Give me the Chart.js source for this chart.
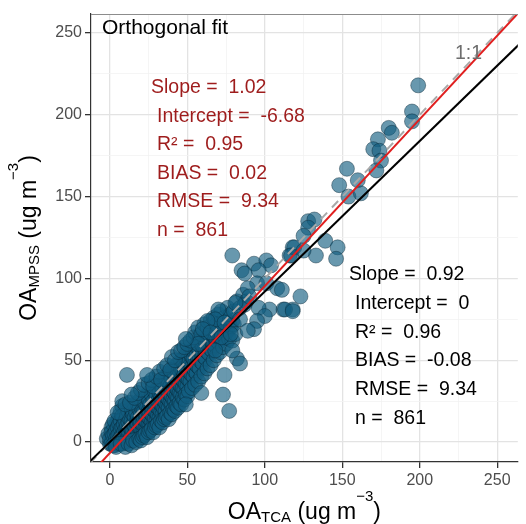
<!DOCTYPE html>
<html lang="en">
<head>
<meta charset="UTF-8" />
<title>Orthogonal fit - OA MPSS vs OA TCA</title>
<style>
  body { margin: 0; background: #fff; }
  #chart { display: block; }
</style>
</head>
<body>
<canvas id="chart" width="526" height="524"></canvas>
<script src="https://cdn.jsdelivr.net/npm/chart.js"></script>
<script>
  // [OA_TCA, OA_MPSS] pairs (ug m-3)
  const coreLow = [
    [1,3],[2,1],[2,7],[3,2],[3,9],[4,0],[4,4],[4,11],[5,2],[5,6],[5,13],[6,-1],[6,3],[6,8],[6,16],
    [7,1],[7,5],[7,10],[7,19],[8,2],[8,7],[8,12],[8,22],[9,0],[9,4],[9,9],[9,15],[10,2],[10,6],
    [10,11],[10,18],[11,3],[11,8],[11,13],[11,21],[12,1],[12,5],[12,10],[12,15],[13,4],[13,7],
    [13,12],[13,19],[14,2],[14,6],[14,11],[14,16],[15,5],[15,9],[15,14],[15,22],[16,3],[16,8],
    [16,12],[16,18],[-2,2],[0,-1],[-1,5],[1,9]
  ];
  const coreMid = [
    [17,6],[17,10],[17,14],[17,22],[18,4],[18,9],[18,13],[18,18],[19,7],[19,11],[19,16],[19,25],
    [20,6],[20,10],[20,14],[20,19],[21,9],[21,13],[21,17],[21,24],[22,8],[22,12],[22,16],[22,21],
    [23,11],[23,15],[23,19],[23,28],[24,10],[24,14],[24,18],[24,23],[25,13],[25,17],[25,21],[25,30],
    [26,12],[26,16],[26,20],[26,26],[27,15],[27,19],[27,24],[28,14],[28,18],[28,22],[28,28],
    [29,17],[29,21],[29,26],[30,16],[30,20],[30,25],[30,32],[31,19],[31,23],[31,28],[32,18],
    [32,22],[32,27],[32,34],[33,21],[33,25],[33,30],[34,20],[34,24],[34,29],[34,38],[35,23],
    [35,27],[35,33],[36,22],[36,26],[36,31],[36,40],[37,25],[37,29],[37,35],[38,24],[38,28],
    [38,33],[38,42],[39,27],[39,31],[39,37],[40,26],[40,30],[40,35],[40,44]
  ];
  const coreHigh = [
    [41,29],[41,34],[41,39],[42,28],[42,33],[42,38],[42,46],[43,31],[43,36],[43,41],[44,30],
    [44,35],[44,40],[44,48],[45,33],[45,38],[45,44],[46,32],[46,37],[46,42],[46,50],[47,36],
    [47,41],[47,47],[48,35],[48,40],[48,45],[48,52],[49,38],[49,43],[49,49],[50,37],[50,42],
    [50,47],[50,55],[51,41],[51,46],[51,52],[52,40],[52,45],[52,50],[53,44],[53,49],[53,56],
    [54,43],[54,48],[54,53],[55,46],[55,51],[55,58],[56,45],[56,50],[56,55],[57,49],[57,54],
    [57,61],[58,48],[58,53],[58,58],[59,52],[59,57],[60,51],[60,56],[60,62],[61,54],[61,59],
    [62,53],[62,58],[62,65],[63,57],[63,62],[64,56],[64,61],[64,67],[65,60],[65,65],[66,59],
    [66,64],[67,62],[67,68],[68,61],[68,66],[69,64],[70,63],[70,69],[71,66],[72,65],[72,71],
    [73,68],[74,70],[75,67],[76,72]
  ];
  const coreFill = [
    [0,2],[1,6],[1,-1],[2,4],[2,11],[3,5],[3,-2],[3,13],[4,7],[4,2],[5,9],[5,-1],[5,4],[6,11],
    [6,5],[6,1],[7,3],[7,13],[7,8],[8,-1],[8,4],[8,9],[8,16],[9,6],[9,11],[9,2],[10,4],[10,8],
    [10,13],[10,0],[11,1],[11,6],[11,10],[11,16],[12,3],[12,7],[12,12],[12,19],[13,2],[13,9],
    [13,14],[14,4],[14,8],[14,13],[14,20],[15,3],[15,7],[15,11],[15,17],[16,5],[16,10],[16,15],
    [16,23],[17,4],[17,8],[17,12],[17,18],[18,6],[18,11],[18,15],[18,23],[19,5],[19,9],[19,13],
    [19,20],[20,4],[20,8],[20,12],[20,17],[20,26],[21,7],[21,11],[21,20],[22,6],[22,10],[22,14],
    [22,19],[23,9],[23,13],[23,17],[23,23],[24,8],[24,12],[24,16],[24,21],[25,11],[25,15],[25,19],
    [25,26],[26,10],[26,14],[26,18],[26,23],[27,12],[27,17],[27,21],[27,29],[28,11],[28,16],
    [28,20],[28,25],[29,14],[29,19],[29,23],[29,31],[30,13],[30,18],[30,22],[30,28],[31,16],
    [31,21],[31,25],[32,15],[32,20],[32,24],[32,30],[33,18],[33,23],[33,27],[33,35],[34,17],
    [34,22],[34,26],[34,32],[35,20],[35,25],[35,30],[35,37],[36,19],[36,24],[36,28],[36,34],
    [37,22],[37,27],[37,32],[38,21],[38,26],[38,30],[38,37],[39,24],[39,29],[39,34],[40,23],
    [40,28],[40,32],[40,39],[41,26],[41,31],[41,36],[42,25],[42,30],[42,35],[42,41],[43,28],
    [43,33],[43,38],[44,27],[44,32],[44,37],[44,43],[45,30],[45,35],[45,41],[46,29],[46,34],
    [46,39],[46,45],[47,33],[47,38],[47,44],[48,32],[48,37],[48,42],[48,48],[49,35],[49,40],
    [49,46],[50,34],[50,39],[50,44],[50,50],[51,38],[51,43],[51,49],[52,37],[52,42],[52,47],
    [52,54],[53,41],[53,46],[53,52],[54,40],[54,45],[54,51],[55,43],[55,48],[55,54],[56,42],
    [56,47],[56,53],[56,59],[57,46],[57,51],[57,57],[58,45],[58,51],[58,56],[59,49],[59,54],
    [59,60],[60,48],[60,54],[60,59],[61,52],[61,57],[61,63],[62,51],[62,56],[62,61],[63,55],
    [63,60],[63,66],[64,54],[64,59],[64,64],[65,57],[65,62],[66,56],[66,61],[66,67],[67,60],
    [67,65],[68,59],[68,64],[68,70],[69,62],[69,67],[70,61],[70,66],[71,64],[71,69],[72,63],
    [72,68],[73,66],[73,71],[74,65],[74,68],[75,70],[76,68],[77,73],[78,70],[79,74],[80,72]
  ];
  const bandUpper = [
    [5,18],[8,25],[10,23],[13,24],[16,27],[18,30],[20,32],[22,35],[25,36],[27,38],[28,34],
    [30,40],[32,43],[33,38],[35,45],[37,47],[39,44],[40,52],[42,50],[44,55],[46,56],[48,58],
    [50,60],[52,62],[54,64],[55,67],[57,70],[59,66],[61,72],[63,70],[65,74],[67,76],[69,72],
    [70,78],[72,80],[74,76],[76,82],[78,78],[80,80],[82,86],[84,82],[86,90],[88,86]
  ];
  const bandLower = [
    [2,-2],[4,-3],[7,-1],[10,-3],[12,-1],[14,-2],[15,1],[17,0],[19,2],[20,1],[21,3],[22,4],
    [23,5],[24,3],[25,6],[26,7],[27,8],[28,6],[29,9],[30,10],[31,11],[32,9],[33,13],[34,12],
    [35,14],[36,15],[37,16],[38,14],[39,18],[40,17],[41,20],[42,19],[43,22],[44,21],[45,24],
    [46,23],[47,27],[48,26],[49,29],[50,28],[51,31],[53,33],[55,35],[57,37],[59,40],[61,42],
    [63,45],[65,47],[67,50],[69,53],[71,55],[73,58],[75,60],[77,63],[79,62],[81,66]
  ];
  const midCluster = [
    [79,114],[93,109],[101,111],[104,108],[96,105],[85,105],[87,103],[95,97],[89,94],[101,97],
    [108,94],[111,93],[123,89],[112,81],[118,81],[103,81],[96,82],[100,77],[87,84],[90,89],
    [81,85],[84,75],[95,74],[93,69],[89,68],[70,81],[68,75],[74,73],[63,74],[60,69],[65,67],
    [72,64],[78,66],[82,51],[79,56],[68,56],[113,81],[118,80],[57,60]
  ];
  const upperCluster = [
    [199,218],[195,202],[195,196],[180,192],[182,189],[173,185],[170,179],[174,178],[175,172],
    [172,166],[153,167],[148,157],[160,160],[154,150],[162,152],[128,135],[132,136],[128,131],
    [125,126],[139,123],[147,119],[133,114],[146,112],[118,119],[116,114],[119,119],[117,114],
    [125,117]
  ];
  const outliers = [
    [11,41],[24,41],[14,29],[49,63],[73,29],[77,19],[84,48],[74,41],[59,30],[49,23]
  ];

  const tickValues = [0, 50, 100, 150, 200, 250];
  const gridValues = [0, 25, 50, 75, 100, 125, 150, 175, 200, 225, 250];
  const redFit = { slope: 1.02, intercept: -6.68 };
  const blackFit = { slope: 0.92, intercept: 0 };
  const oneToOne = { slope: 1, intercept: 0 };
  const redStats = ['Slope =  1.02', 'Intercept =  -6.68', 'R\u00b2 =  0.95', 'BIAS =  0.02', 'RMSE =  9.34', 'n =  861'];
  const blackStats = ['Slope =  0.92', 'Intercept =  0', 'R\u00b2 =  0.96', 'BIAS =  -0.08', 'RMSE =  9.34', 'n =  861'];

  const FONT = '"Liberation Sans", Arial, sans-serif';
  const allPoints = [].concat(coreLow, coreMid, coreHigh, coreFill, bandUpper, bandLower,
    midCluster, upperCluster, outliers).map(p => ({ x: p[0], y: p[1] }));

  const xMin = -12.2, xMax = 263.3, yMin = -12.2, yMax = 261.6;
  const lineEnds = [-20, 280];
  const fitLine = f => lineEnds.map(x => ({ x: x, y: f.slope * x + f.intercept }));

  // text with sub/superscripts, centred on cx
  function drawRich(ctx, parts, cx, y) {
    let total = 0;
    parts.forEach(p => { ctx.font = p.size + 'px ' + FONT; total += ctx.measureText(p.t).width; });
    let x = cx - total / 2;
    parts.forEach(p => {
      ctx.font = p.size + 'px ' + FONT;
      ctx.fillText(p.t, x, y + (p.dy || 0));
      x += ctx.measureText(p.t).width;
    });
  }

  const overlay = {
    id: 'overlay',
    afterDraw(chart) {
      const ctx = chart.ctx;
      const area = chart.chartArea;
      ctx.save();
      // top panel border
      ctx.strokeStyle = '#8c8c8c';
      ctx.lineWidth = 1;
      ctx.beginPath();
      ctx.moveTo(area.left, area.top + 0.5);
      ctx.lineTo(area.right, area.top + 0.5);
      ctx.stroke();

      ctx.textBaseline = 'alphabetic';
      ctx.textAlign = 'left';
      ctx.fillStyle = '#000';
      ctx.font = '21px ' + FONT;
      ctx.fillText('Orthogonal fit', 102, 34);

      ctx.font = '19.5px ' + FONT;
      ctx.fillStyle = '#9e1c1c';
      redStats.forEach((s, i) => ctx.fillText(s, i === 0 ? 151 : 157, 93 + i * 28.5));
      ctx.fillStyle = '#000';
      blackStats.forEach((s, i) => ctx.fillText(s, i === 0 ? 349 : 355, 280 + i * 28.8));

      ctx.fillStyle = '#6e6e6e';
      ctx.fillText('1:1', 455, 59);

      // axis titles
      ctx.fillStyle = '#000';
      const cx = (area.left + area.right) / 2;
      drawRich(ctx, [
        { t: 'OA', size: 23 }, { t: 'TCA', size: 15, dy: 3 },
        { t: ' (ug m', size: 23 }, { t: '\u22123', size: 15, dy: -18 }, { t: ')', size: 23 }
      ], cx, 519);
      ctx.translate(36, (area.top + area.bottom) / 2);
      ctx.rotate(-Math.PI / 2);
      drawRich(ctx, [
        { t: 'OA', size: 23 }, { t: 'MPSS', size: 15, dy: 3 },
        { t: ' (ug m', size: 23 }, { t: '\u22123', size: 15, dy: -18 }, { t: ')', size: 23 }
      ], 0, 0);
      ctx.restore();
    }
  };

  function makeAxis(min, max, fit) {
    return {
      type: 'linear',
      min: min,
      max: max,
      afterBuildTicks: s => { s.ticks = gridValues.map(v => ({ value: v })); },
      afterFit: fit,
      ticks: {
        autoSkip: false,
        maxRotation: 0,
        padding: 3,
        color: '#4d4d4d',
        font: { family: FONT, size: 16 },
        callback: v => tickValues.includes(v) ? String(v) : ''
      },
      grid: {
        color: c => tickValues.includes(c.tick.value) ? '#e3e3e3' : '#f2f2f2',
        lineWidth: c => tickValues.includes(c.tick.value) ? 1.3 : 0.8,
        tickColor: c => tickValues.includes(c.tick.value) ? '#333' : 'rgba(0,0,0,0)',
        tickLength: 6
      },
      border: { color: '#333', width: 1.2 }
    };
  }

  new Chart(document.getElementById('chart'), {
    type: 'scatter',
    data: {
      datasets: [
        {
          type: 'line', data: fitLine(oneToOne),
          borderColor: '#a9a9a9', borderWidth: 2, borderDash: [9, 7],
          pointRadius: 0, clip: 0, order: 2
        },
        {
          data: allPoints,
          backgroundColor: 'rgba(18,94,128,0.64)',
          borderColor: 'rgba(8,36,50,0.6)',
          borderWidth: 0.7,
          pointRadius: 7.5,
          order: 3
        },
        {
          type: 'line', data: fitLine(blackFit),
          borderColor: '#000', borderWidth: 2, pointRadius: 0, clip: 0, order: 1
        },
        {
          type: 'line', data: fitLine(redFit),
          borderColor: '#e01f1f', borderWidth: 2, pointRadius: 0, clip: 0, order: 0
        }
      ]
    },
    options: {
      responsive: false,
      animation: false,
      devicePixelRatio: 1,
      layout: { padding: { top: 14, right: 0, left: 0, bottom: 0 } },
      plugins: { legend: { display: false }, tooltip: { enabled: false } },
      scales: {
        x: makeAxis(xMin, xMax, s => { s.height = 62; }),
        y: makeAxis(yMin, yMax, s => { s.width = 91; })
      }
    },
    plugins: [overlay]
  });
</script>
</body>
</html>
